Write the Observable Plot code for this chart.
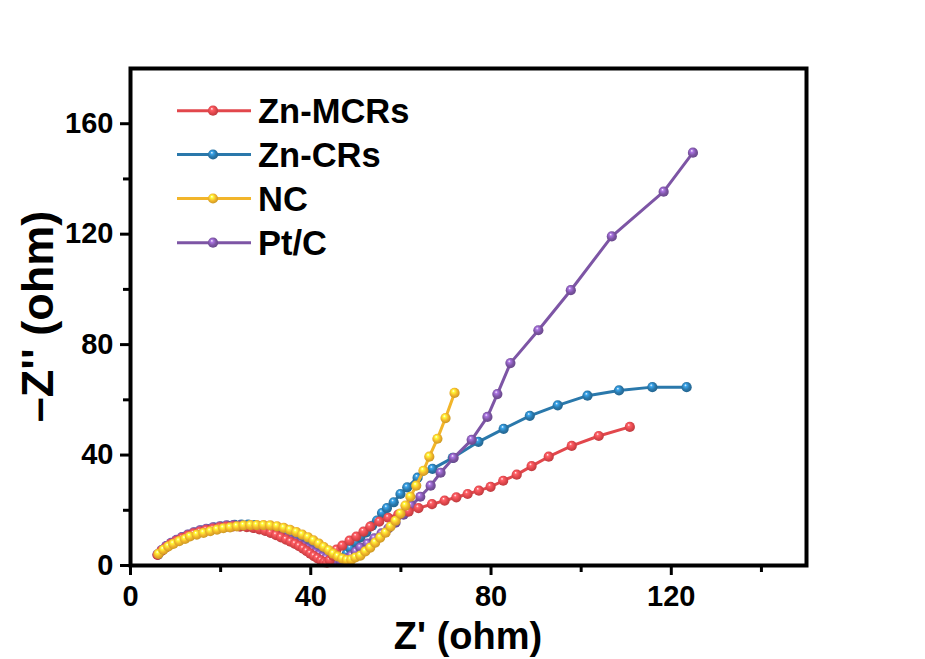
<!DOCTYPE html>
<html><head><meta charset="utf-8">
<script src="https://cdn.jsdelivr.net/npm/d3@7"></script>
<script src="https://cdn.jsdelivr.net/npm/@observablehq/plot@0.6"></script>
<style>
body{margin:0;background:#fff}
#chart{position:relative;width:925px;height:659px}
</style>
</head><body><div id="chart"></div>
<script>
const seriesNames = ["Zn-MCRs", "Zn-CRs", "NC", "Pt/C"];
const seriesColors = ["#e2474c", "#2a78ab", "#f2b52a", "#7d55a5"];

const mcrsX = [6.0, 6.9, 7.9, 9.0, 10.2, 11.4, 12.7, 14.0, 15.4, 16.8, 18.3, 19.8, 21.3, 22.8, 24.3, 25.8, 27.2, 28.6, 29.9, 31.1, 32.3, 33.4, 34.5, 35.5, 36.5, 37.4, 38.3, 39.1, 39.9, 40.7, 41.5, 42.3, 43.0, 43.6, 44.2, 44.9, 45.7, 47.0, 48.6, 50.1, 51.7, 53.2, 55.2, 57.2, 59.4, 61.7, 63.9, 66.9, 69.7, 72.3, 74.8, 77.3, 79.9, 82.7, 85.7, 89.0, 92.8, 97.9, 103.9, 110.8];
const mcrsY = [3.8, 5.3, 6.6, 7.8, 8.9, 9.9, 10.8, 11.6, 12.3, 12.9, 13.4, 13.8, 14.1, 14.2, 14.1, 13.9, 13.6, 13.1, 12.5, 11.8, 11.0, 10.2, 9.4, 8.6, 7.8, 7.0, 6.1, 5.2, 4.3, 3.4, 2.6, 1.8, 1.2, 1.0, 1.9, 3.6, 5.8, 7.2, 9.0, 10.5, 12.3, 14.1, 15.9, 17.3, 18.4, 19.5, 20.8, 22.2, 23.5, 24.7, 25.9, 27.1, 28.5, 30.7, 32.9, 36.0, 39.4, 43.3, 46.9, 50.2];

const crsX = [6.1, 7.0, 8.0, 9.1, 10.3, 11.5, 12.8, 14.2, 15.6, 17.1, 18.6, 20.1, 21.6, 23.1, 24.6, 26.1, 27.6, 29.1, 30.5, 31.9, 33.2, 34.5, 35.7, 36.9, 38.0, 39.0, 40.0, 41.0, 41.9, 42.8, 43.6, 44.4, 45.2, 46.0, 46.8, 47.4, 48.0, 48.8, 49.9, 51.0, 52.3, 53.6, 54.7, 55.8, 56.9, 58.4, 59.9, 61.4, 63.7, 67.0, 71.5, 77.2, 82.8, 88.6, 94.8, 101.4, 108.4, 115.8, 123.4];
const crsY = [3.9, 5.5, 6.9, 8.1, 9.2, 10.2, 11.1, 11.9, 12.6, 13.2, 13.7, 14.1, 14.4, 14.7, 14.8, 14.8, 14.6, 14.3, 13.8, 13.2, 12.5, 11.7, 10.8, 9.9, 8.9, 7.9, 6.9, 5.9, 5.0, 4.1, 3.3, 2.6, 2.0, 1.7, 1.8, 2.8, 4.3, 6.2, 8.4, 10.2, 12.0, 14.4, 16.3, 19.0, 20.8, 22.9, 25.9, 28.3, 31.8, 35.0, 39.0, 44.8, 49.5, 54.2, 58.0, 61.5, 63.4, 64.6, 64.6];

const ncX = [6.2, 7.3, 8.4, 9.5, 10.8, 12.1, 13.2, 14.7, 16.2, 17.7, 19.2, 20.6, 22.1, 23.6, 25.1, 26.6, 28.0, 29.5, 31.0, 32.5, 34.0, 35.4, 36.8, 38.1, 39.4, 40.6, 41.8, 42.9, 44.0, 45.0, 46.0, 47.0, 48.0, 49.0, 49.9, 51.0, 52.1, 53.2, 54.3, 55.4, 56.6, 57.7, 58.8, 59.9, 61.0, 62.1, 63.4, 65.0, 66.3, 68.1, 69.9, 71.9];
const ncY = [4.2, 5.7, 6.9, 7.8, 8.8, 9.6, 10.5, 11.2, 11.8, 12.4, 13.0, 13.5, 13.8, 14.2, 14.5, 14.6, 14.6, 14.6, 14.5, 14.2, 13.6, 12.9, 12.1, 11.2, 10.2, 9.1, 7.9, 6.7, 5.5, 4.3, 3.3, 2.5, 2.0, 2.1, 2.9, 3.6, 5.1, 6.5, 8.3, 10.1, 11.9, 14.1, 16.2, 18.8, 21.7, 24.9, 28.9, 34.3, 39.4, 45.9, 53.4, 62.5];

const ptcX = [6.0, 6.9, 7.9, 9.0, 10.2, 11.4, 12.7, 14.0, 15.4, 16.8, 18.3, 19.8, 21.3, 22.8, 24.3, 25.8, 27.2, 28.6, 29.9, 31.1, 32.3, 33.4, 34.5, 35.5, 36.5, 37.5, 38.4, 39.3, 40.2, 41.0, 41.8, 42.6, 43.4, 44.2, 45.0, 45.8, 46.6, 47.4, 48.2, 49.0, 50.0, 51.0, 52.6, 54.1, 55.7, 57.2, 58.8, 60.6, 62.3, 64.3, 66.6, 68.8, 71.7, 75.7, 79.2, 81.4, 84.3, 90.5, 97.7, 106.8, 118.3, 124.8];
const ptcY = [4.0, 5.6, 7.0, 8.2, 9.3, 10.3, 11.2, 12.0, 12.7, 13.3, 13.8, 14.2, 14.5, 14.6, 14.5, 14.2, 13.8, 13.3, 12.7, 12.0, 11.3, 10.6, 9.9, 9.2, 8.5, 7.8, 7.0, 6.2, 5.4, 4.6, 3.9, 3.2, 2.6, 2.1, 1.7, 1.5, 1.6, 2.0, 2.7, 3.6, 5.0, 6.5, 7.9, 9.8, 11.6, 13.4, 15.5, 18.4, 21.7, 24.9, 28.9, 33.6, 39.0, 45.5, 53.8, 62.1, 73.3, 85.2, 99.7, 119.2, 135.4, 149.5];

const xMajor = [0, 40, 80, 120];
const xMinor = [20, 60, 100, 140];
const yMajor = [0, 40, 80, 120, 160];
const yMinor = [20, 60, 100, 140];

const xTitle = "Z' (ohm)";
const yTitle = "\u2013Z'' (ohm)";

const seriesX = [mcrsX, crsX, ncX, ptcX];
const seriesY = [mcrsY, crsY, ncY, ptcY];
const drawOrder = [1, 3, 0, 2];

const rows = seriesNames.map((name, i) => seriesX[i].map((x, j) => ({series: name, x, y: seriesY[i][j]})));

const W = 925, H = 659, mL = 130, mR = 119, mT = 68, mB = 94;
const font = "'Liberation Sans', Arial, Helvetica, sans-serif";
const dotR = 5.1;

const marks = [];
for (const i of drawOrder) {
  marks.push(Plot.line(rows[i], {x: "x", y: "y", stroke: seriesColors[i], strokeWidth: 3}));
  marks.push(Plot.dot(rows[i], {x: "x", y: "y", r: dotR, fill: `url(#grad${i})`, stroke: "none"}));
}

const plot = Plot.plot({
  width: W, height: H,
  marginLeft: mL, marginRight: mR, marginTop: mT, marginBottom: mB,
  x: {domain: [0, 150]},
  y: {domain: [0, 180]},
  style: {fontFamily: font, fontWeight: "bold", fontSize: "29px", color: "#000", background: "#fff"},
  marks: [
    ...marks,
    Plot.frame({stroke: "#000", strokeWidth: 4}),
    Plot.axisX(xMajor, {tickSize: 10, tickPadding: 10, strokeWidth: 3, label: null, tickFormat: d => String(d), fontSize: 29, fontWeight: "bold"}),
    Plot.axisX(xMinor, {tickSize: 7, strokeWidth: 3, label: null, tickFormat: () => ""}),
    Plot.axisY(yMajor, {tickSize: 10, tickPadding: 7, strokeWidth: 3, label: null, tickFormat: d => String(d), fontSize: 29, fontWeight: "bold"}),
    Plot.axisY(yMinor, {tickSize: 7, strokeWidth: 3, label: null, tickFormat: () => ""})
  ]
});

document.getElementById("chart").appendChild(plot);

const svg = d3.select(plot);
const defs = svg.insert("defs", ":first-child");
seriesColors.forEach((c, i) => {
  const g = defs.append("radialGradient").attr("id", `grad${i}`)
    .attr("cx", "0.45").attr("cy", "0.45").attr("r", "0.6").attr("fx", "0.38").attr("fy", "0.3");
  g.append("stop").attr("offset", "0%").attr("stop-color", "#ffffff");
  g.append("stop").attr("offset", "22%").attr("stop-color", d3.color(c).brighter(0.9).formatHex());
  g.append("stop").attr("offset", "60%").attr("stop-color", c);
  g.append("stop").attr("offset", "100%").attr("stop-color", d3.color(c).darker(0.6).formatHex());
});

// Legend
const legendRowY = [110.7, 154.5, 198.5, 242.7];
const lg = svg.append("g").attr("text-anchor", "start");
seriesNames.forEach((name, i) => {
  const y = legendRowY[i];
  lg.append("line").attr("x1", 177).attr("x2", 251).attr("y1", y).attr("y2", y)
    .attr("stroke", seriesColors[i]).attr("stroke-width", 3);
  lg.append("circle").attr("cx", 213).attr("cy", y).attr("r", dotR).attr("fill", `url(#grad${i})`);
  lg.append("text").attr("x", 258).attr("y", y).attr("dy", "0.36em").attr("text-anchor", "start")
    .attr("font-family", font).attr("font-weight", "bold").attr("font-size", 34.5)
    .attr("fill", "#000").text(name);
});

// Axis titles
svg.append("text").attr("x", mL + (W - mL - mR) / 2).attr("y", 649)
  .attr("text-anchor", "middle").attr("font-family", font).attr("font-weight", "bold")
  .attr("font-size", 38).attr("fill", "#000").text(xTitle);
svg.append("text").attr("transform", `translate(53,${mT + (H - mT - mB) / 2}) rotate(-90)`)
  .attr("text-anchor", "middle").attr("font-family", font).attr("font-weight", "bold")
  .attr("font-size", 45).attr("fill", "#000").text(yTitle);
</script>
</body></html>
